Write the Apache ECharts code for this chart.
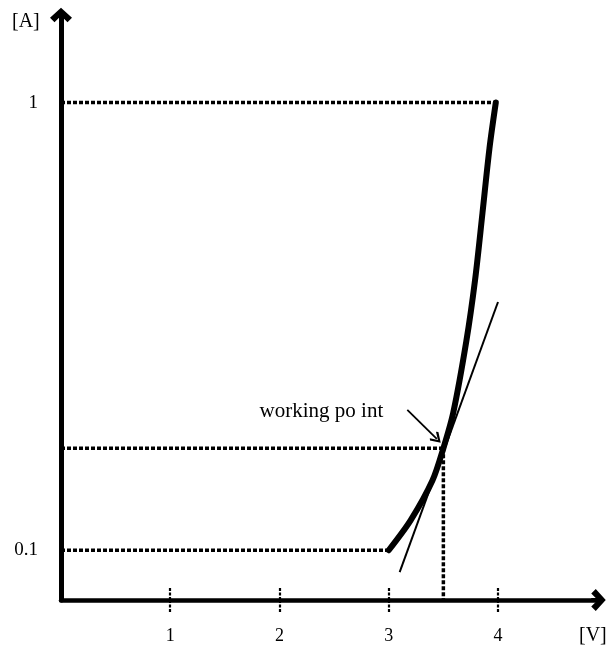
<!DOCTYPE html>
<html>
<head>
<meta charset="utf-8">
<script src="https://cdn.jsdelivr.net/npm/echarts@6/dist/echarts.min.js"></script>
<style>
  html, body { margin: 0; padding: 0; background: #fff; }
  #chart { width: 611px; height: 650px; }
</style>
</head>
<body>
<div id="chart"></div>
<script>
// tick labels
const voltTicks = [1, 2, 3, 4];
const currentTicks = [0.1, 1];

// diode characteristic (V, A)
const curveV = [3.0, 3.2, 3.4, 3.5, 3.59, 3.71, 3.79, 3.858, 3.922, 3.98];
const curveI = [0.1, 0.16, 0.24, 0.305, 0.376, 0.52, 0.643, 0.778, 0.908, 1.0];

// tangent at the working point
const tangentV = [3.1, 4.0];
const tangentI = [0.056, 0.599];

// working point
const workV = 3.5;
const workI = 0.305;

// annotation arrow + text anchor
const arrowFrom = [3.17, 0.382];
const arrowTo = [3.44, 0.324];
const labelAt = [2.95, 0.378];

const font = 'Liberation Serif';
const axisArrow = 'path://M0,0 L11,10 L6.5,14.5 L0,8 L-6.5,14.5 L-11,10 Z M-2,3 L2,3 L2,14.5 L-2,14.5 Z';
const dotted = { color: '#000', width: 3.5, type: [4, 2] };

function zip(a, b) {
  return a.map((v, i) => [v, b[i]]);
}

const guides = [
  [[0, 1], [4, 1]],
  [[0, curveI[0]], [curveV[0], curveI[0]]],
  [[0, workI], [workV, workI]],
  [[workV, workI], [workV, 0]]
];

const chart = echarts.init(document.getElementById('chart'), null, { renderer: 'canvas' });

const option = {
  animation: false,
  grid: { left: 61, right: 12.5, top: 15, bottom: 50 },
  xAxis: [
    {
      type: 'value', min: 0, max: 4.92,
      axisLine: {
        show: true, onZero: false,
        symbol: ['none', axisArrow], symbolSize: [22, 16],
        lineStyle: { color: '#000', width: 4.5 }
      },
      axisTick: {
        show: true, inside: false, length: 12, customValues: voltTicks,
        lineStyle: { color: '#000', width: 2.2, type: [3, 1.5] }
      },
      axisLabel: {
        show: true, margin: 27, customValues: voltTicks,
        fontFamily: font, fontSize: 18, color: '#000'
      },
      splitLine: { show: false }
    },
    {
      type: 'value', min: 0, max: 4.92, position: 'bottom',
      axisLine: { show: false, onZero: false },
      axisTick: {
        show: true, inside: true, length: 12, customValues: voltTicks,
        lineStyle: { color: '#000', width: 2.2, type: [3, 1.5] }
      },
      axisLabel: { show: false },
      splitLine: { show: false }
    }
  ],
  yAxis: {
    type: 'value', min: 0, max: 1.176,
    axisLine: {
      show: true, onZero: false,
      symbol: ['none', axisArrow], symbolSize: [22, 20],
      lineStyle: { color: '#000', width: 5 }
    },
    axisTick: { show: false },
    axisLabel: {
      show: true, margin: 23, customValues: currentTicks,
      fontFamily: font, fontSize: 19, color: '#000'
    },
    splitLine: { show: false }
  },
  graphic: [
    { type: 'text', left: 12, top: 12, style: { text: '[A]', font: '20px "Liberation Serif"', fill: '#000' } },
    { type: 'text', left: 579, top: 626, style: { text: '[V]', font: '20px "Liberation Serif"', fill: '#000' } }
  ],
  series: [
    ...guides.map(g => ({
      type: 'line', data: g, symbol: 'none', silent: true,
      lineStyle: dotted
    })),
    {
      type: 'line', data: zip(tangentV, tangentI), symbol: 'none',
      lineStyle: { color: '#000', width: 2 }
    },
    {
      type: 'line', data: zip(curveV, curveI), symbol: 'none', smooth: 0.3,
      lineStyle: { color: '#000', width: 6, cap: 'round' },
      markLine: {
        silent: true,
        symbol: ['none', 'path://M0,0 L6,7 L4.4,8.4 L0,3 L-4.4,8.4 L-6,7 Z'],
        symbolSize: [12, 11],
        label: { show: false },
        lineStyle: { color: '#000', width: 1.8, type: 'solid' },
        data: [[{ coord: arrowFrom }, { coord: arrowTo }]]
      }
    },
    {
      type: 'scatter', data: [labelAt], symbolSize: 0, silent: true,
      itemStyle: { opacity: 1 },
      label: {
        show: true, position: 'left', distance: 0,
        formatter: 'working po int',
        fontFamily: font, fontSize: 21, color: '#000', opacity: 1
      }
    }
  ]
};

chart.setOption(option);
</script>
</body>
</html>
